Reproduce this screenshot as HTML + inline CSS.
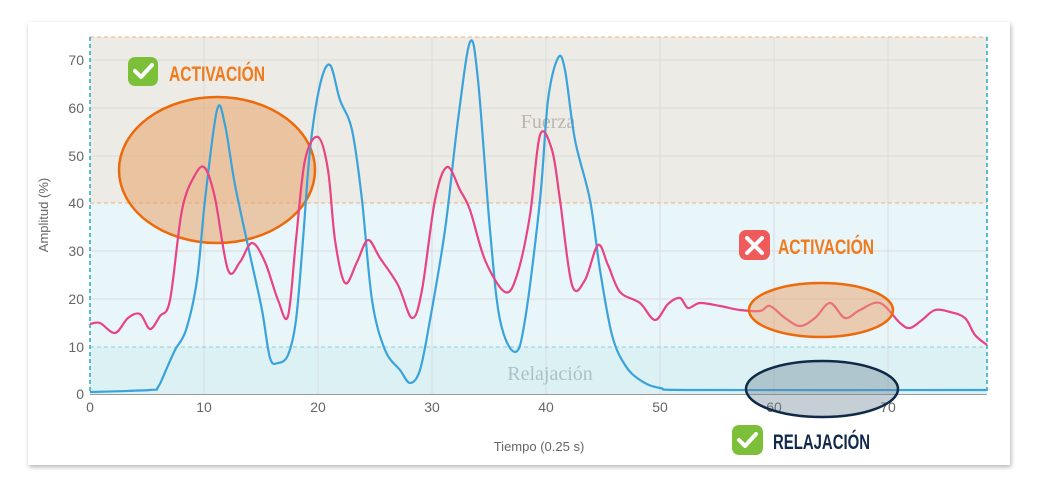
<!DOCTYPE html>
<html><head><style>
body{margin:0;background:#fff;width:1043px;height:494px;overflow:hidden}
</style></head><body>
<svg id="s" width="1043" height="494" viewBox="0 0 1043 494" xmlns="http://www.w3.org/2000/svg" font-family="Liberation Sans, sans-serif">
<defs><filter id="sh" x="-5%" y="-5%" width="110%" height="115%"><feDropShadow dx="1" dy="2" stdDeviation="2.5" flood-color="#000" flood-opacity="0.3"/></filter></defs>
<rect x="28" y="22" width="982" height="443" fill="#fff" filter="url(#sh)"/>
<rect x="90" y="37" width="897" height="166" fill="#ecebe5"/>
<rect x="90" y="203" width="897" height="144" fill="#e8f5f9"/>
<rect x="90" y="347" width="897" height="47" fill="#dcf1f3"/>
<g stroke="#d8dcdc" stroke-width="1">
<line x1="204" y1="37" x2="204" y2="394"/><line x1="318" y1="37" x2="318" y2="394"/><line x1="432" y1="37" x2="432" y2="394"/><line x1="546" y1="37" x2="546" y2="394"/><line x1="660" y1="37" x2="660" y2="394"/><line x1="774" y1="37" x2="774" y2="394"/><line x1="888" y1="37" x2="888" y2="394"/>
<line x1="90" y1="60" x2="987" y2="60"/><line x1="90" y1="108" x2="987" y2="108"/><line x1="90" y1="156" x2="987" y2="156"/><line x1="90" y1="251" x2="987" y2="251"/><line x1="90" y1="299" x2="987" y2="299"/>
</g>
<g stroke-dasharray="4,3" stroke-width="1">
<line x1="90" y1="37" x2="987" y2="37" stroke="#f0b27a"/>
<line x1="90" y1="203" x2="987" y2="203" stroke="#f0b27a"/>
<line x1="90" y1="347" x2="987" y2="347" stroke="#8fd0d6"/>
<line x1="90" y1="37" x2="90" y2="394" stroke="#27a9c4" stroke-width="1.5"/>
<line x1="987" y1="37" x2="987" y2="394" stroke="#27a9c4" stroke-width="1.5"/>
</g>
<line x1="90" y1="394.5" x2="987" y2="394.5" stroke="#999"/>
<text x="548" y="128" font-family="Liberation Serif, serif" font-size="20" fill="#b9b6ae" text-anchor="middle">Fuerza</text>
<text x="550" y="380" font-family="Liberation Serif, serif" font-size="20" fill="#a9c3c5" text-anchor="middle">Relajación</text>
<g font-size="14" fill="#666" text-anchor="end">
<text x="84" y="65">70</text><text x="84" y="113">60</text><text x="84" y="161">50</text><text x="84" y="208">40</text><text x="84" y="256">30</text><text x="84" y="304">20</text><text x="84" y="352">10</text><text x="84" y="399">0</text>
</g>
<g font-size="14" fill="#666" text-anchor="middle">
<text x="90" y="412">0</text><text x="204" y="412">10</text><text x="318" y="412">20</text><text x="432" y="412">30</text><text x="546" y="412">40</text><text x="660" y="412">50</text><text x="774" y="412">60</text><text x="888" y="412">70</text>
</g>
<text x="539" y="451" font-size="13" fill="#666" text-anchor="middle">Tiempo (0.25 s)</text>
<text transform="translate(48,215) rotate(-90)" font-size="13" fill="#666" text-anchor="middle">Amplitud (%)</text>
<ellipse cx="217" cy="170" rx="98" ry="73" fill="#e9a26a" fill-opacity="0.55" stroke="#ec6a0c" stroke-width="2.5"/>
<path id="blue" fill="none" stroke="#3aa3dc" stroke-width="2.2" stroke-linejoin="round" data-p="90,392 150,390 158,387 166,370 175,350 186,330 197,280 205,200 217,110 225,125 235,185 250,255 262,310 270,358 278,363 288,355 296,320 303,240 310,150 320,85 330,65 340,100 352,130 362,200 372,300 385,350 400,370 410,383 420,370 430,320 445,230 458,120 470,42 478,80 490,230 500,320 515,352 525,320 540,200 548,100 558,58 565,70 575,140 590,200 600,270 612,335 625,365 640,380 660,388 700,390 987,390"/>
<path id="pink" fill="none" stroke="#e84382" stroke-width="2.2" stroke-linejoin="round" data-p="90,324 100,323 115,333 128,318 140,314 150,329 160,316 170,300 182,210 195,175 205,168 215,198 228,270 240,262 252,243 265,262 278,300 288,316 296,240 305,160 318,137 328,170 335,240 345,283 357,262 368,240 380,258 398,285 412,318 422,290 435,200 447,167 460,190 470,210 485,260 505,292 517,275 530,215 540,135 552,150 560,200 572,285 585,280 598,245 608,265 620,292 640,303 655,320 668,304 680,298 688,308 700,303 720,306 740,310 760,311 770,306 785,318 800,326 815,318 830,303 845,318 860,310 880,303 900,323 910,328 922,320 935,310 950,312 965,318 975,335 987,345"/>
<ellipse cx="821" cy="310" rx="72" ry="27" fill="#e9a26a" fill-opacity="0.5" stroke="#ec6a0c" stroke-width="2.5"/>
<ellipse cx="822" cy="389" rx="76" ry="28" fill="#6f8896" fill-opacity="0.4" stroke="#0f2a48" stroke-width="2.5"/>
<rect x="128" y="57" width="30" height="29" rx="7" fill="#7cc03a"/>
<path d="M135,71 l6,6 l11,-12" stroke="#fff" stroke-width="4" fill="none" stroke-linecap="round" stroke-linejoin="round"/>
<text x="169" y="81" font-size="21" font-weight="bold" fill="#f07a1e" textLength="96" lengthAdjust="spacingAndGlyphs">ACTIVACIÓN</text>
<rect x="739" y="230" width="31" height="30" rx="7" fill="#ef5a5a"/>
<path d="M747,238 l15,15 M762,238 l-15,15" stroke="#fff" stroke-width="4" stroke-linecap="round"/>
<text x="778" y="254" font-size="21" font-weight="bold" fill="#f07a1e" textLength="96" lengthAdjust="spacingAndGlyphs">ACTIVACIÓN</text>
<rect x="732" y="425" width="31" height="30" rx="7" fill="#7cc03a"/>
<path d="M739,440 l6,6 l11,-12" stroke="#fff" stroke-width="4" fill="none" stroke-linecap="round" stroke-linejoin="round"/>
<text x="773" y="449" font-size="21" font-weight="bold" fill="#13294b" textLength="97" lengthAdjust="spacingAndGlyphs">RELAJACIÓN</text>
</svg>
<script>
['blue','pink'].forEach(function(id){
var el=document.getElementById(id);
var p=el.getAttribute('data-p').split(' ').map(function(s){return s.split(',').map(Number)});
var d='M'+p[0][0]+','+p[0][1];
for(var i=0;i<p.length-1;i++){
var p0=p[i-1]||p[i],p1=p[i],p2=p[i+1],p3=p[i+2]||p2;
var c1x=p1[0]+(p2[0]-p0[0])/6,c1y=p1[1]+(p2[1]-p0[1])/6;
var c2x=p2[0]-(p3[0]-p1[0])/6,c2y=p2[1]-(p3[1]-p1[1])/6;
d+=' C'+c1x.toFixed(1)+','+c1y.toFixed(1)+' '+c2x.toFixed(1)+','+c2y.toFixed(1)+' '+p2[0]+','+p2[1];
}
el.setAttribute('d',d);el.removeAttribute('data-p');
});
</script>
</body></html>
